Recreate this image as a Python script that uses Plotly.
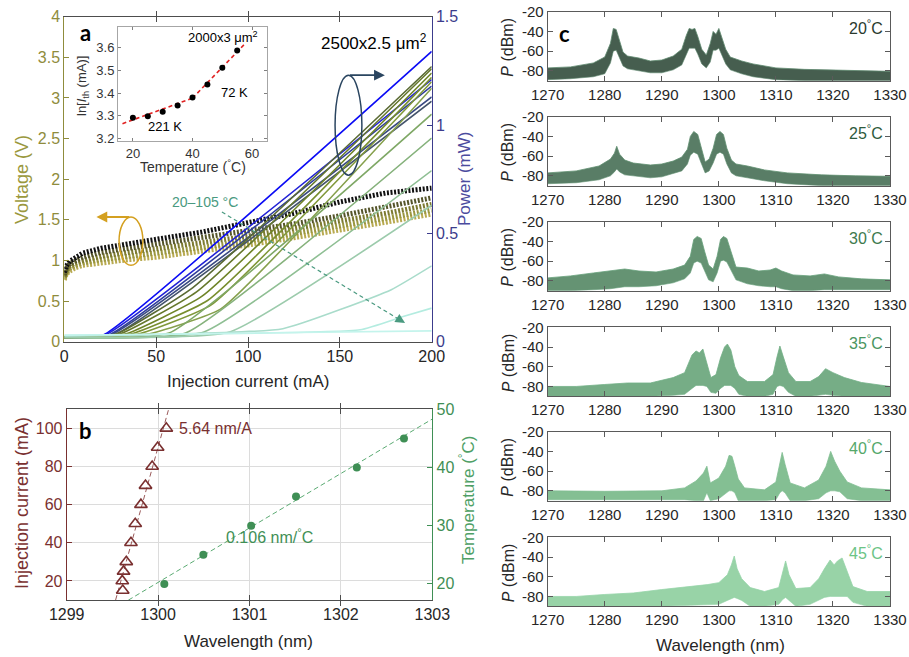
import plotly.graph_objects as go

W, H = 909, 657


def px(x):
    return x / W


def py(y):
    return 1 - y / H


FONT = "Liberation Sans, Arial, sans-serif"
OLIVE = "#8f8c3c"
NAVY = "#3c3c8c"
MAROON = "#7a3030"
BGREEN = "#3f8f55"
DARK = "#262626"

# ---------------- Panel a : V-I curves (left axis) ----------------
VI_current = [0, 1, 3, 6, 10, 20, 35, 50, 75, 100, 125, 150, 175, 200]
VI_volt_black = [0.85, 0.93, 0.99, 1.04, 1.09, 1.15, 1.21, 1.26, 1.35, 1.46, 1.58, 1.72, 1.83, 1.89]
VI_volt_olive1 = [0.82, 0.90, 0.96, 1.00, 1.04, 1.10, 1.15, 1.20, 1.28, 1.36, 1.45, 1.55, 1.66, 1.77]
VI_volt_olive2 = [0.80, 0.87, 0.93, 0.97, 1.00, 1.05, 1.10, 1.14, 1.22, 1.30, 1.39, 1.48, 1.58, 1.69]
VI_volt_olive3 = [0.78, 0.85, 0.90, 0.94, 0.97, 1.01, 1.05, 1.09, 1.16, 1.24, 1.33, 1.42, 1.52, 1.62]
VI_volt_olive4 = [0.76, 0.83, 0.87, 0.91, 0.94, 0.97, 1.01, 1.04, 1.11, 1.19, 1.28, 1.37, 1.47, 1.57]

# ---------------- Panel a : L-I curves (right axis) ----------------
LI_temp = [20, 25, 30, 35, 40, 45, 50, 55, 60, 65, 70, 75, 80, 85, 90, 95, 100, 105]
LI_p0 = [0.02, 0.02, 0.02, 0.02, 0.02, 0.02, 0.02, 0.02, 0.02, 0.02, 0.02, 0.02, 0.02, 0.02, 0.02, 0.025, 0.03, 0.03]
LI_ith = [21, 22, 24, 25, 27, 28, 30, 33, 36, 40, 45, 57, 66, 76, 90, 119, 161, 200]
LI_pth = [0.03, 0.03, 0.03, 0.03, 0.03, 0.035, 0.035, 0.035, 0.035, 0.035, 0.035, 0.04, 0.04, 0.045, 0.045, 0.06, 0.055, 0.05]
LI_iknee = [None, None, None, None, None, 70, 72, 75, 78, 80, 85, None, None, None, None, 178, 184, None]
LI_pknee = [None, None, None, None, None, 0.25, 0.23, 0.21, 0.19, 0.17, 0.15, None, None, None, None, 0.24, 0.115, None]
LI_p200 = [1.34, 1.21, 1.18, 1.13, 1.11, 1.27, 1.26, 1.24, 1.22, 1.20, 1.17, 1.05, 0.94, 0.79, 0.63, 0.35, 0.155, 0.05]
LI_colors = ["#0c0cf5", "#2323d6", "#2e3c9c", "#3a4a82", "#44546c", "#5a6a34", "#66782c", "#6f8428",
             "#788e2e", "#80983a", "#86a04c", "#7fa866", "#86b27c", "#8fbf94", "#9ccbac", "#a9dccb",
             "#b4ece0", "#c4f4ec"]

# ---------------- Inset : ln(Ith) vs T ----------------
INSET_T = [20, 25, 30, 35, 40, 45, 50, 55]
INSET_lnIth = [3.292, 3.299, 3.318, 3.346, 3.381, 3.438, 3.511, 3.587]
INSET_fit1_T = [16.5, 40]
INSET_fit1_y = [3.266, 3.378]
INSET_fit2_T = [40, 57.5]
INSET_fit2_y = [3.378, 3.615]

# ---------------- Panel b ----------------
B_current = [15, 20, 25, 30, 40, 50, 60, 70, 80, 90, 100]
B_current_wl = [1299.613, 1299.608, 1299.622, 1299.652, 1299.703, 1299.75, 1299.812, 1299.862, 1299.935, 1299.995, 1300.09]
B_current_fit_wl = [1299.535, 1300.115]
B_current_fit_I = [10, 110]
B_temp = [20, 25, 30, 35, 40, 45]
B_temp_wl = [1300.068, 1300.495, 1301.018, 1301.509, 1302.174, 1302.69]
B_temp_fit_wl = [1299.674, 1303.0]
B_temp_fit_T = [17.2, 48.33]

# ---------------- Panel c : spectra envelopes ----------------
C_temps = [20, 25, 30, 35, 40, 45]

S20_wl = [1270, 1274, 1278, 1280, 1281, 1281.5, 1282, 1282.6, 1283.2, 1284, 1286, 1288, 1290, 1292, 1293.5,
          1294.3, 1294.8, 1295.3, 1295.8, 1296.3, 1297, 1297.8, 1298.5, 1299, 1299.5, 1300, 1300.5, 1301.2,
          1302, 1304, 1306, 1310, 1315, 1320, 1325, 1330]
S20_up = [-77, -76, -72, -66, -52, -37, -38, -50, -61, -65, -67, -70, -69, -65, -58, -44, -37, -38, -37, -45,
          -58, -64, -52, -40, -43, -37, -45, -58, -66, -70, -73, -77, -78.5, -79, -80, -80.5]
S20_lo = [-89, -88, -86, -83, -72, -60, -59, -67, -75, -78, -80, -82, -82, -79, -74, -63, -57, -57, -57, -63,
          -73, -77, -71, -59, -59, -57, -63, -73, -79, -83, -86, -89, -90, -90, -90, -90]

S25_wl = [1270, 1275, 1279, 1281, 1281.7, 1282.1, 1282.6, 1283.5, 1285, 1288, 1290, 1292, 1293.5, 1294.5,
          1295, 1295.6, 1296.3, 1296.9, 1297.6, 1298.3, 1299, 1299.6, 1300.2, 1300.8, 1301.4, 1302.2, 1303,
          1305, 1308, 1312, 1318, 1324, 1330]
S25_up = [-77, -75, -70, -63, -57, -50, -58, -64, -67, -69, -68, -65, -61, -53, -40, -35, -38, -51, -66, -63,
          -52, -38, -35, -38, -52, -64, -68, -70, -74, -77, -79, -80, -80.5]
S25_lo = [-88, -87, -84, -80, -76, -73, -76, -79, -80, -82, -81, -78, -75, -68, -59, -56, -58, -67, -77, -75,
          -67, -58, -56, -58, -68, -77, -80, -82, -85, -88, -90, -90, -90]

S30_wl = [1270, 1274, 1278, 1281, 1283.5, 1286, 1289, 1292, 1294, 1295, 1295.6, 1296.2, 1296.9, 1297.5,
          1298.2, 1299, 1299.7, 1300.3, 1300.8, 1301.4, 1302.2, 1303, 1305, 1307, 1309, 1310, 1311, 1313,
          1316, 1318.5, 1321, 1325, 1330]
S30_up = [-77, -75, -72, -70, -68, -70, -71, -68, -64, -55, -38, -35, -37, -50, -64, -68, -55, -38, -35, -37,
          -52, -66, -67, -70, -69, -67, -70, -74, -75, -73, -76, -78, -79]
S30_lo = [-90, -90, -89, -88, -86, -86, -85, -82, -78, -72, -62, -60, -62, -70, -79, -81, -72, -60, -59, -61,
          -70, -79, -83, -85, -86, -86, -88, -90, -90, -89, -89, -89, -89]

S35_wl = [1270, 1275, 1280, 1284, 1288, 1292, 1294, 1295.3, 1296, 1296.6, 1297.2, 1297.9, 1298.6, 1299.5,
          1300.3, 1301, 1301.5, 1302.1, 1302.8, 1303.5, 1305, 1308, 1309.5, 1310.2, 1310.7, 1311.3, 1312.2,
          1313.5, 1316, 1317.5, 1318.7, 1320, 1322, 1325, 1330]
S35_up = [-80, -80, -78, -76.5, -76.5, -71, -66, -48, -44, -46, -42, -58, -71, -68, -51, -40, -37, -43, -60,
          -69, -75, -75, -68, -50, -39, -50, -66, -75, -75, -70, -62, -66, -71, -76, -80]
S35_lo = [-90, -90, -90, -90, -90, -89, -88, -82, -79, -79, -79, -80, -86, -87, -82, -79, -79, -79, -82, -88,
          -90, -90, -88, -80, -79, -80, -86, -90, -90, -89, -88, -89, -90, -90, -90]

S40_wl = [1270, 1280, 1290, 1294, 1296, 1297.3, 1297.9, 1298.5, 1300, 1301.2, 1301.8, 1302.3, 1302.8, 1303.4,
          1304.5, 1308, 1310, 1310.7, 1311.1, 1311.6, 1312.5, 1315, 1317.5, 1318.8, 1319.6, 1320.3, 1321.2,
          1322.5, 1325, 1330]
S40_up = [-80, -80.5, -80, -77, -70, -62, -55, -72, -67, -55, -44, -45, -55, -68, -77, -79, -71, -50, -41, -53,
          -72, -77, -69, -55, -40, -50, -60, -71, -77, -79]
S40_lo = [-89, -89, -89, -89, -90, -90, -82, -90, -88, -82, -80, -80, -82, -90, -90, -90, -89, -82, -80, -82,
          -90, -90, -88, -82, -80, -80, -81, -88, -90, -90]

S45_wl = [1270, 1275, 1280, 1285, 1290, 1295, 1298, 1300, 1301.5, 1302.2, 1302.7, 1303.2, 1304, 1305.5, 1308,
          1310.5, 1311.2, 1311.7, 1312.3, 1313.5, 1316, 1317.5, 1318.5, 1319.5, 1320.2, 1320.8, 1321.6, 1322.5,
          1323.5, 1326, 1330]
S45_up = [-80, -80, -78, -76.5, -73, -70, -68, -66, -58, -48, -39, -52, -62, -71, -75, -71, -55, -44, -58, -72,
          -71, -62, -52, -43, -48, -44, -41, -55, -70, -75, -75]
S45_lo = [-90, -90, -90, -90, -90, -89, -88, -88, -84, -82, -81, -82, -84, -90, -90, -88, -83, -81, -84, -90,
          -88, -84, -81, -80, -80, -80, -80, -80, -86, -90, -90]

SPECTRA = [(S20_wl, S20_up, S20_lo), (S25_wl, S25_up, S25_lo), (S30_wl, S30_up, S30_lo),
           (S35_wl, S35_up, S35_lo), (S40_wl, S40_up, S40_lo), (S45_wl, S45_up, S45_lo)]
C_fill = ["rgba(38,66,48,0.85)", "rgba(48,92,64,0.8)", "rgba(58,116,76,0.78)",
          "rgba(72,146,94,0.75)", "rgba(84,166,106,0.72)", "rgba(108,192,130,0.7)"]
C_edge = ["#5f8a70", "#5f8f70", "#66a07a", "#72b086", "#80be92", "#96d4a8"]
C_label = ["#2a3a2e", "#2e5a3c", "#3e7a4e", "#4a9560", "#55a86a", "#6cc486"]

fig = go.Figure()

# ----- V-I -----
vi_sets = [(VI_volt_olive4, "#b8aa50"), (VI_volt_olive3, "#9a9640"), (VI_volt_olive2, "#7c7a30"),
           (VI_volt_olive1, "#55552a"), (VI_volt_black, "#111111")]
for v, c in vi_sets:
    fig.add_trace(go.Scatter(x=VI_current, y=v, mode="lines", xaxis="x", yaxis="y",
                             line=dict(color=c, width=5, dash="2px,1.6px"), hoverinfo="skip"))

# ----- L-I -----
for i in range(len(LI_temp)):
    xs = [0, LI_ith[i]]
    ys = [LI_p0[i], LI_pth[i]]
    if LI_iknee[i] is not None:
        xs.append(LI_iknee[i])
        ys.append(LI_pknee[i])
    if LI_ith[i] < 200:
        xs.append(200)
        ys.append(LI_p200[i])
    fig.add_trace(go.Scatter(x=xs, y=ys, mode="lines", xaxis="x", yaxis="y2",
                             line=dict(color=LI_colors[i], width=1.6, shape="spline", smoothing=0.4),
                             hoverinfo="skip"))

# ----- inset -----
fig.add_trace(go.Scatter(x=INSET_fit1_T, y=INSET_fit1_y, mode="lines", xaxis="x2", yaxis="y3",
                         line=dict(color="#e02020", width=1.6, dash="4px,3px"), hoverinfo="skip"))
fig.add_trace(go.Scatter(x=INSET_fit2_T, y=INSET_fit2_y, mode="lines", xaxis="x2", yaxis="y3",
                         line=dict(color="#e02020", width=1.6, dash="4px,3px"), hoverinfo="skip"))
fig.add_trace(go.Scatter(x=INSET_T, y=INSET_lnIth, mode="markers", xaxis="x2", yaxis="y3",
                         marker=dict(color="black", size=6), hoverinfo="skip"))

# ----- panel b -----
fig.add_trace(go.Scatter(x=B_current_fit_wl, y=B_current_fit_I, mode="lines", xaxis="x3", yaxis="y4",
                         line=dict(color="#9a5a5a", width=1, dash="5px,3px"), hoverinfo="skip"))
fig.add_trace(go.Scatter(x=B_current_wl, y=B_current, mode="markers", xaxis="x3", yaxis="y4",
                         marker=dict(symbol="triangle-up-open", color=MAROON, size=11, line=dict(width=1.6)),
                         hoverinfo="skip"))
fig.add_trace(go.Scatter(x=B_temp_fit_wl, y=B_temp_fit_T, mode="lines", xaxis="x3", yaxis="y5",
                         line=dict(color="#5aaa72", width=1, dash="5px,3px"), hoverinfo="skip"))
fig.add_trace(go.Scatter(x=B_temp_wl, y=B_temp, mode="markers", xaxis="x3", yaxis="y5",
                         marker=dict(symbol="circle", color=BGREEN, size=8), hoverinfo="skip"))

# ----- panel c -----
for k, (wl, up, lo) in enumerate(SPECTRA):
    xa = "x%d" % (4 + k)
    ya = "y%d" % (6 + k)
    fig.add_trace(go.Scatter(x=wl, y=lo, mode="lines", xaxis=xa, yaxis=ya,
                             line=dict(color=C_edge[k], width=0.6), hoverinfo="skip"))
    fig.add_trace(go.Scatter(x=wl, y=up, mode="lines", xaxis=xa, yaxis=ya, fill="tonexty",
                             fillcolor=C_fill[k], line=dict(color=C_edge[k], width=0.8), hoverinfo="skip"))


def ax(**kw):
    d = dict(showgrid=False, zeroline=False, showline=True, ticks="inside", ticklen=5, tickwidth=1,
             linewidth=1, fixedrange=True, automargin=False)
    d.update(kw)
    return d


layout = dict(
    width=W, height=H, margin=dict(l=0, r=0, t=0, b=0), showlegend=False,
    paper_bgcolor="white", plot_bgcolor="white",
    font=dict(family=FONT, size=16, color=DARK),
)

# panel a
layout["xaxis"] = ax(domain=[px(64.3), px(431.7)], range=[0, 200], anchor="y", mirror="allticks",
                     linecolor="#4d4d4d", tickcolor="#4d4d4d", tickvals=[0, 50, 100, 150, 200],
                     tickfont=dict(size=16, color=DARK))
layout["yaxis"] = ax(domain=[py(341.7), py(16.7)], range=[0, 4], anchor="x", side="left",
                     linecolor=OLIVE, tickcolor=OLIVE,
                     tickvals=[0, 0.5, 1, 1.5, 2, 2.5, 3, 3.5, 4], tickfont=dict(size=16, color=OLIVE))
layout["yaxis2"] = ax(overlaying="y", side="right", anchor="x", range=[0, 1.5],
                      linecolor=NAVY, tickcolor=NAVY, tickvals=[0, 0.5, 1, 1.5],
                      tickfont=dict(size=16, color=NAVY))
# inset
layout["xaxis2"] = ax(domain=[px(118), px(267)], range=[15, 65], anchor="y3", mirror="allticks",
                      linecolor="#a6a6a6", tickcolor="#808080", ticklen=3, tickvals=[20, 40, 60],
                      tickfont=dict(size=13, color="#333333"))
layout["yaxis3"] = ax(domain=[py(141), py(27)], range=[3.19, 3.69], anchor="x2", mirror="allticks",
                      linecolor="#a6a6a6", tickcolor="#808080", ticklen=3,
                      tickvals=[3.2, 3.3, 3.4, 3.5, 3.6], tickfont=dict(size=13, color="#333333"))
# panel b
layout["xaxis3"] = ax(domain=[px(66.7), px(432.3)], range=[1299, 1303], anchor="y4", mirror="allticks",
                      linecolor="#4d4d4d", tickcolor="#4d4d4d", showgrid=True, gridcolor="#dcdcdc",
                      tickvals=[1299, 1300, 1301, 1302, 1303], tickfont=dict(size=16, color=DARK))
layout["yaxis4"] = ax(domain=[py(600), py(409.3)], range=[10, 110], anchor="x3", side="left",
                      linecolor=MAROON, tickcolor=MAROON, showgrid=True, gridcolor="#dcdcdc",
                      tickvals=[20, 40, 60, 80, 100], tickfont=dict(size=16, color=MAROON))
layout["yaxis5"] = ax(overlaying="y4", side="right", anchor="x3", range=[17.23, 50],
                      linecolor=BGREEN, tickcolor=BGREEN, tickvals=[20, 30, 40, 50],
                      tickfont=dict(size=16, color=BGREEN))
# panel c
row_tops = [11.7, 116.7, 221.7, 327.3, 431.7, 537.3]
for k, top in enumerate(row_tops):
    layout["xaxis%d" % (4 + k)] = ax(domain=[px(547.7), px(890)], range=[1270, 1330], anchor="y%d" % (6 + k),
                                     mirror="allticks", linecolor="#5a5a5a", tickcolor="#5a5a5a",
                                     tickvals=[1270, 1280, 1290, 1300, 1310, 1320, 1330],
                                     tickfont=dict(size=15, color=DARK))
    layout["yaxis%d" % (6 + k)] = ax(domain=[py(top + 69), py(top)], range=[-90, -20], anchor="x%d" % (4 + k),
                                     mirror="allticks", linecolor="#5a5a5a", tickcolor="#5a5a5a",
                                     tickvals=[-80, -60, -40, -20], ticktext=["-80", "-60", "-40", "-20"],
                                     tickfont=dict(size=15, color=DARK))

ann = []


def text(x, y, s, size=16, color=DARK, angle=0, xanchor="center", family=None):
    f = dict(size=size, color=color)
    if family:
        f["family"] = family
    ann.append(dict(x=px(x), y=py(y), xref="paper", yref="paper", text=s, showarrow=False,
                    textangle=angle, xanchor=xanchor, yanchor="middle", font=f))


# axis titles
text(248, 381, "Injection current (mA)", 17)
text(22, 180, "Voltage (V)", 18, "#9a983e", -90)
text(465, 179, "Power (mW)", 17, "#4b4b9e", -90)
text(22, 503, "Injection current (mA)", 18, MAROON, -90)
text(467, 500, "Temperature (<sup>°</sup>C)", 17, "#4f9f66", -90)
text(249, 641, "Wavelength (nm)", 17)
text(720, 645, "Wavelength (nm)", 17)
for k, top in enumerate(row_tops):
    text(508, top + 35, "<i>P</i> (dBm)", 16, DARK, -90)
    text(885, top + 15, "%d<sup>°</sup>C" % C_temps[k], 16, C_label[k], 0, "right")

# inset titles
text(193, 166, "Temperature (<sup>°</sup>C)", 14, "#333333")
text(82, 86, "ln[<i>I</i><sub>th</sub> (mA)]", 13, "#333333", -90)

# panel letters
text(85, 32, "<b>a</b>", 22, "black", family="Lato, Open Sans, sans-serif")
text(85, 430, "<b>b</b>", 22, "black", family="Lato, Open Sans, sans-serif")
text(564, 33, "<b>c</b>", 22, "black", family="Lato, Open Sans, sans-serif")

# annotations in data coordinates
ann.append(dict(x=168.7, y=3.69, xref="x", yref="y", text="2500x2.5 μm<sup>2</sup>", showarrow=False,
                font=dict(size=17, color="black")))
ann.append(dict(x=76.6, y=1.72, xref="x", yref="y", text="20–105 °C", showarrow=False,
                font=dict(size=14, color="#4a9a80")))
ann.append(dict(x=50.2, y=3.645, xref="x2", yref="y3", text="2000x3 μm<sup>2</sup>", showarrow=False,
                font=dict(size=13, color="black")))
ann.append(dict(x=54.2, y=3.403, xref="x2", yref="y3", text="72 K", showarrow=False,
                font=dict(size=13, color="black")))
ann.append(dict(x=30.8, y=3.254, xref="x2", yref="y3", text="221 K", showarrow=False,
                font=dict(size=13, color="black")))
ann.append(dict(x=1300.21, y=100, xref="x3", yref="y4", text="5.64 nm/A", showarrow=False, xanchor="left",
                font=dict(size=16, color=MAROON)))
ann.append(dict(x=1300.72, y=28.3, xref="x3", yref="y5", text="0.106 nm/<sup>°</sup>C", showarrow=False,
                xanchor="left", font=dict(size=16, color=BGREEN)))

# arrows
ann.append(dict(x=185.5, y=0.23, ax=181.5, ay=0.285, xref="x", yref="y", axref="x", ayref="y", text="",
                showarrow=True, arrowhead=2, arrowsize=1.6, arrowwidth=1.2, arrowcolor="#4a9a80"))
ann.append(dict(x=174.5, y=3.28, ax=154.7, ay=3.28, xref="x", yref="y", axref="x", ayref="y", text="",
                showarrow=True, arrowhead=2, arrowsize=1.2, arrowwidth=1.8, arrowcolor="#2a4560"))
ann.append(dict(x=17.5, y=1.535, ax=36.2, ay=1.535, xref="x", yref="y", axref="x", ayref="y", text="",
                showarrow=True, arrowhead=2, arrowsize=1.2, arrowwidth=1.8, arrowcolor="#d4a020"))
layout["annotations"] = ann

layout["shapes"] = [
    dict(type="line", xref="x", yref="y", x0=85.8, y0=1.596, x1=182, y1=0.278,
         line=dict(color="#4a9a80", width=1.2, dash="4px,3px")),
    dict(type="circle", xref="x", yref="y", x0=147.4, x1=162.0, y0=2.05, y1=3.28,
         line=dict(color="#2a4560", width=1.5)),
    dict(type="circle", xref="x", yref="y", x0=29.8, x1=42.8, y0=0.94, y1=1.535,
         line=dict(color="#d4a020", width=1.5)),
]

fig.update_layout(**layout)
# remove the browser's default 8 px body margin so the figure fills the window exactly
fig.write_html("out.html", config={"displayModeBar": False, "staticPlot": True},
               post_script="document.body.style.margin='0';document.body.style.overflow='hidden';")
